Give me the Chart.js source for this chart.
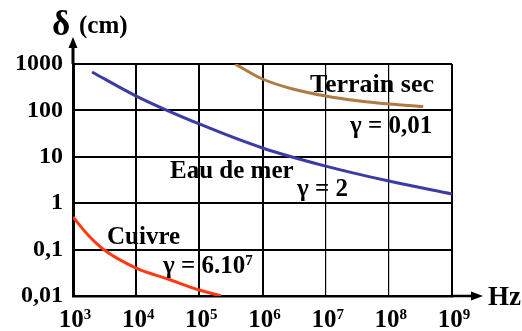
<!DOCTYPE html>
<html>
<head>
<meta charset="utf-8">
<script src="https://cdn.jsdelivr.net/npm/chart.js@4.4.1/dist/chart.umd.min.js"></script>
<style>
html,body{margin:0;padding:0;background:#fff;}
canvas{display:block;}
</style>
</head>
<body>
<canvas id="c" width="522" height="331"></canvas>
<script>
// ---- data ----
const xTicks = [1e3, 1e4, 1e5, 1e6, 1e7, 1e8, 1e9];
const xExponents = ["3", "4", "5", "6", "7", "8", "9"];
const yTicks = [0.01, 0.1, 1, 10, 100, 1000];
const yTickLabels = ["0,01", "0,1", "1", "10", "100", "1000"];

const seaFreq  = [2e3, 1e4, 1e5, 1e6, 1e7, 1e8, 1e9];
const seaDepth = [673, 204, 51, 15.5, 6.3, 3.0, 1.58];

const soilFreq  = [3.67e5, 1e6, 3e6, 1e7, 3e7, 1e8, 3.5e8];
const soilDepth = [1000, 475, 289, 204, 163, 137, 121];

const copperFreq  = [1e3, 1.73e3, 2.98e3, 1e4, 3.19e4, 1e5, 2.2e5];
const copperDepth = [0.505, 0.206, 0.103, 0.040, 0.0232, 0.01345, 0.01];

const seriesNames = ["Eau de mer", "Terrain sec", "Cuivre"];
const annotationTexts = ["Terrain sec", "γ = 0,01", "Eau de mer", "γ = 2", "Cuivre", "γ = 6.10", "7"];
const yTitle = ["δ", "(cm)"];
const xTitle = "Hz";

const pts = (xs, ys) => xs.map((x, i) => ({x: x, y: ys[i]}));
const SERIF = '"Liberation Serif", "DejaVu Serif", serif';

const decorPlugin = {
  id: 'decor',
  afterDraw(chart) {
    const ctx = chart.ctx;
    const a = chart.chartArea;
    const xs = chart.scales.x;
    ctx.save();
    ctx.fillStyle = '#000';
    ctx.strokeStyle = '#000';
    // axis arrows
    ctx.lineWidth = 3;
    ctx.beginPath(); ctx.moveTo(a.left, a.top); ctx.lineTo(a.left, 46); ctx.stroke();
    ctx.beginPath(); ctx.moveTo(a.left, 37); ctx.lineTo(a.left - 4.5, 48); ctx.lineTo(a.left + 4.5, 48); ctx.closePath(); ctx.fill();
    ctx.lineWidth = 2.5;
    ctx.beginPath(); ctx.moveTo(a.right, a.bottom); ctx.lineTo(472, a.bottom); ctx.stroke();
    ctx.beginPath(); ctx.moveTo(483, a.bottom); ctx.lineTo(471, a.bottom - 4.5); ctx.lineTo(471, a.bottom + 4.5); ctx.closePath(); ctx.fill();

    // x tick labels with superscripts
    ctx.textBaseline = 'alphabetic';
    ctx.textAlign = 'left';
    xTicks.forEach((v, i) => {
      const px = xs.getPixelForValue(v);
      ctx.font = 'bold 25px ' + SERIF;
      const w1 = ctx.measureText('10').width;
      ctx.font = 'bold 15px ' + SERIF;
      const w2 = ctx.measureText(xExponents[i]).width;
      const left = px - (w1 + w2) / 2 + 2;
      ctx.font = 'bold 25px ' + SERIF;
      ctx.fillText('10', left, 327);
      ctx.font = 'bold 15px ' + SERIF;
      ctx.fillText(xExponents[i], left + w1, 319);
    });

    // axis titles
    ctx.font = 'bold 35px ' + SERIF;
    ctx.fillText(yTitle[0], 52, 35);
    ctx.font = 'bold 25px ' + SERIF;
    ctx.fillText(yTitle[1], 79, 33);
    ctx.font = 'bold 27px ' + SERIF;
    ctx.fillText(xTitle, 488, 305);

    // annotations
    const ann = [
      [annotationTexts[0], 310, 92, 26],
      [annotationTexts[1], 350, 133, 25],
      [annotationTexts[2], 170, 178, 25],
      [annotationTexts[3], 297, 196, 25],
      [annotationTexts[4], 107, 244, 25],
      [annotationTexts[5], 163, 273, 25]
    ];
    ann.forEach(([t, x, y, s]) => {
      ctx.font = 'bold ' + s + 'px ' + SERIF;
      ctx.fillText(t, x, y);
    });
    ctx.font = 'bold 25px ' + SERIF;
    const wg = ctx.measureText(annotationTexts[5]).width;
    ctx.font = 'bold 15px ' + SERIF;
    ctx.fillText(annotationTexts[6], 163 + wg, 265);
    ctx.restore();
  }
};

new Chart(document.getElementById('c'), {
  type: 'scatter',
  data: {
    datasets: [
      {label: seriesNames[0], data: pts(seaFreq, seaDepth), showLine: true, borderColor: '#3b3ba6', borderWidth: 3, pointRadius: 0, cubicInterpolationMode: 'monotone'},
      {label: seriesNames[1], data: pts(soilFreq, soilDepth), showLine: true, borderColor: '#b07a45', borderWidth: 3, pointRadius: 0, cubicInterpolationMode: 'monotone'},
      {label: seriesNames[2], data: pts(copperFreq, copperDepth), showLine: true, borderColor: '#ff3a10', borderWidth: 3, pointRadius: 0, cubicInterpolationMode: 'monotone'}
    ]
  },
  options: {
    responsive: false,
    animation: false,
    devicePixelRatio: 1,
    layout: {padding: {top: 64, right: 70, left: 0, bottom: 0}},
    plugins: {legend: {display: false}, tooltip: {enabled: false}},
    scales: {
      x: {
        type: 'logarithmic', min: 1e3, max: 1e9,
        afterBuildTicks: s => { s.ticks = xTicks.map(v => ({value: v})); },
        afterFit: s => { s.height = 35; },
        ticks: {display: false},
        grid: {color: '#000', drawTicks: false,
          lineWidth: c => (c.tick && (c.tick.value === 1e7 || c.tick.value === 1e8)) ? 1.2 : 2},
        border: {color: '#000', width: 2.5}
      },
      y: {
        type: 'logarithmic', min: 0.01, max: 1000,
        afterBuildTicks: s => { s.ticks = yTicks.map(v => ({value: v})); },
        afterFit: s => { s.width = 73; },
        ticks: {
          color: '#000', padding: 10,
          font: {family: SERIF, size: 24, weight: 'bold'},
          callback: (v) => { const i = yTicks.indexOf(v); return i >= 0 ? yTickLabels[i] : ''; }
        },
        grid: {color: '#000', drawTicks: false, lineWidth: 2},
        border: {color: '#000', width: 3}
      }
    }
  },
  plugins: [decorPlugin]
});
</script>
</body>
</html>
